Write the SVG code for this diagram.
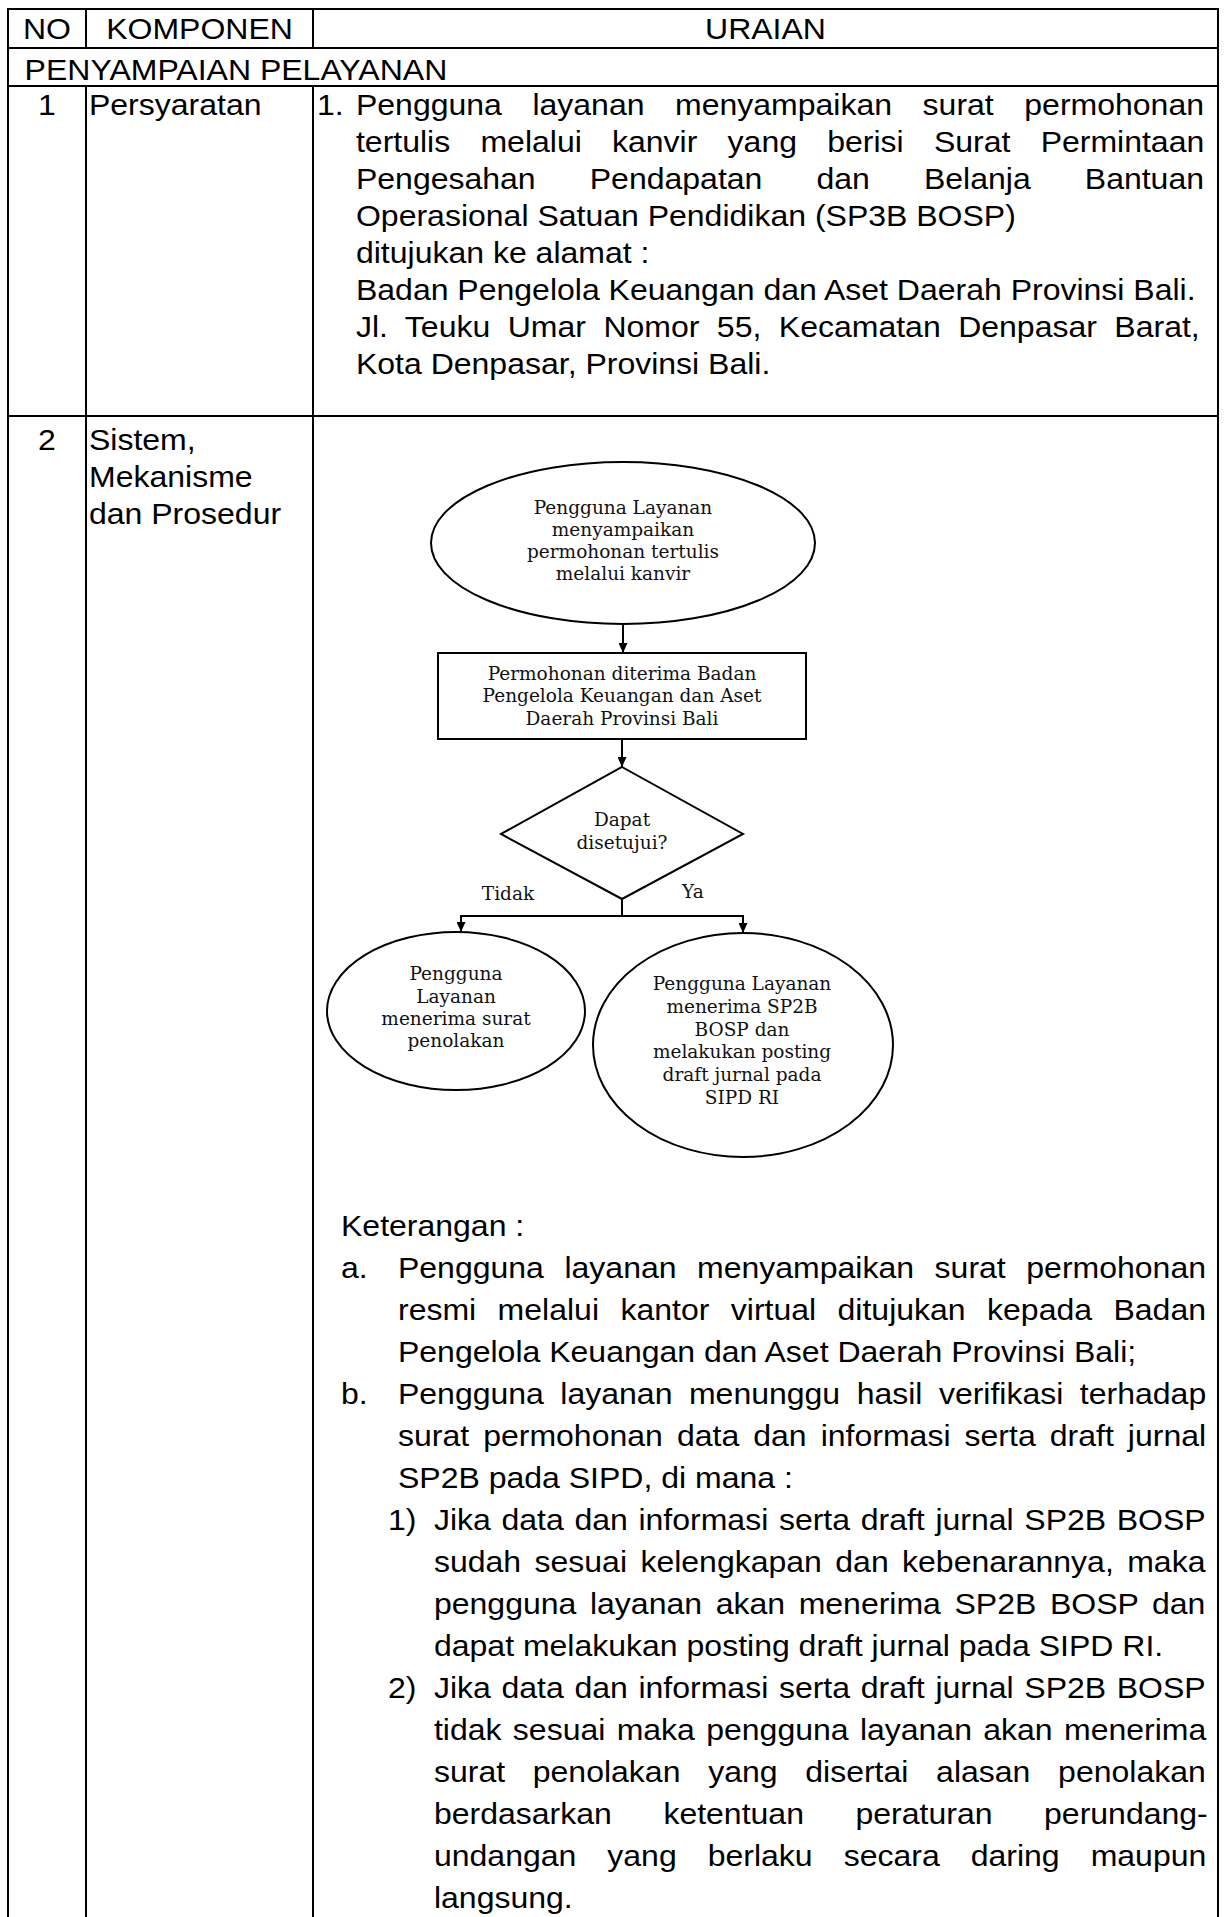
<svg xmlns="http://www.w3.org/2000/svg" width="1224" height="1917" viewBox="0 0 1224 1917">
  <style>
    .grid { stroke: #000; stroke-width: 2; fill: none; }
    .body { font-family: "Liberation Sans", Arial, sans-serif; font-size: 29.1px; fill: #000; }
    .mid { text-anchor: middle; }
    .shape { fill: #fff; stroke: #000; stroke-width: 2; }
    .fc { font-family: "DejaVu Serif", "Liberation Serif", serif; font-size: 18.5px; fill: #111; text-anchor: middle; }
    .edge { fill: none; stroke: #000; stroke-width: 2; }
  </style>
  <defs>
    <marker id="arrow" viewBox="0 0 10 9" refX="10" refY="4.5" markerWidth="10" markerHeight="9" markerUnits="userSpaceOnUse" orient="auto">
      <path d="M0,0 L10,4.5 L0,9 z" fill="#000"/>
    </marker>
  </defs>
  <rect width="1224" height="1917" fill="#fff"/>

  <!-- table rules -->
  <g id="table" class="grid">
    <path d="M8,9 H1218 M8,48 H1218 M8,86 H1218 M8,416 H1218"/>
    <path d="M8,8 V1917 M1218,8 V1917"/>
    <path d="M86,9 V48 M313,9 V48 M86,86 V1917 M313,86 V1917"/>
  </g>

  <!-- table text (Arial metrics, widened horizontally) -->
  <g id="table-text" class="body" transform="scale(1.1 1)">
    <text class="mid" x="42.7" y="39">NO</text>
    <text class="mid" x="181.4" y="39">KOMPONEN</text>
    <text class="mid" x="695.9" y="39">URAIAN</text>
    <text x="22.4" y="80">PENYAMPAIAN PELAYANAN</text>

    <text class="mid" x="42.7" y="115">1</text>
    <text x="80.9" y="115">Persyaratan</text>
    <text x="288.2" y="115">1.</text>
    <text x="323.6" y="115" style="word-spacing:19.7px">Pengguna layanan menyampaikan surat permohonan</text>
    <text x="323.6" y="152" style="word-spacing:19.4px">tertulis melalui kanvir yang berisi Surat Permintaan</text>
    <text x="323.6" y="189" style="word-spacing:41.1px">Pengesahan Pendapatan dan Belanja Bantuan</text>
    <text x="323.6" y="226">Operasional Satuan Pendidikan (SP3B BOSP)</text>
    <text x="323.6" y="263">ditujukan ke alamat :</text>
    <text x="323.6" y="300">Badan Pengelola Keuangan dan Aset Daerah Provinsi Bali.</text>
    <text x="323.6" y="337" style="word-spacing:7.8px">Jl. Teuku Umar Nomor 55, Kecamatan Denpasar Barat,</text>
    <text x="323.6" y="374">Kota Denpasar, Provinsi Bali.</text>

    <text class="mid" x="42.7" y="450">2</text>
    <text x="80.9" y="450">Sistem,</text>
    <text x="80.9" y="487">Mekanisme</text>
    <text x="80.9" y="524">dan Prosedur</text>

    <text x="310" y="1236">Keterangan :</text>
    <text x="310" y="1278">a.</text>
    <text x="361.8" y="1278" style="word-spacing:10.6px">Pengguna layanan menyampaikan surat permohonan</text>
    <text x="361.8" y="1320" style="word-spacing:11.4px">resmi melalui kantor virtual ditujukan kepada Badan</text>
    <text x="361.8" y="1362">Pengelola Keuangan dan Aset Daerah Provinsi Bali;</text>
    <text x="310" y="1404">b.</text>
    <text x="361.8" y="1404" style="word-spacing:6.9px">Pengguna layanan menunggu hasil verifikasi terhadap</text>
    <text x="361.8" y="1446" style="word-spacing:4.7px">surat permohonan data dan informasi serta draft jurnal</text>
    <text x="361.8" y="1488">SP2B pada SIPD, di mana :</text>

    <text x="352.7" y="1530">1)</text>
    <text x="394.5" y="1530" style="word-spacing:1.6px">Jika data dan informasi serta draft jurnal SP2B BOSP</text>
    <text x="394.5" y="1572" style="word-spacing:4.1px">sudah sesuai kelengkapan dan kebenarannya, maka</text>
    <text x="394.5" y="1614" style="word-spacing:4.3px">pengguna layanan akan menerima SP2B BOSP dan</text>
    <text x="394.5" y="1656">dapat melakukan posting draft jurnal pada SIPD RI.</text>

    <text x="352.7" y="1698">2)</text>
    <text x="394.5" y="1698" style="word-spacing:1.6px">Jika data dan informasi serta draft jurnal SP2B BOSP</text>
    <text x="394.5" y="1740" style="word-spacing:2.2px">tidak sesuai maka pengguna layanan akan menerima</text>
    <text x="394.5" y="1782" style="word-spacing:17.1px">surat penolakan yang disertai alasan penolakan</text>
    <text x="394.5" y="1824" style="word-spacing:38.8px">berdasarkan ketentuan peraturan perundang-</text>
    <text x="394.5" y="1866" style="word-spacing:20.1px">undangan yang berlaku secara daring maupun</text>
    <text x="394.5" y="1908">langsung.</text>
  </g>

  <!-- flowchart connectors -->
  <g id="connectors">
    <path class="edge" d="M623,624 V653" marker-end="url(#arrow)"/>
    <path class="edge" d="M622,739 V767" marker-end="url(#arrow)"/>
    <path class="edge" d="M622,899 V916 H461 V932" marker-end="url(#arrow)"/>
    <path class="edge" d="M622,916 H743 V933" marker-end="url(#arrow)"/>
    <text class="fc" x="508" y="900">Tidak</text>
    <text class="fc" x="693" y="898">Ya</text>
  </g>

  <g id="start">
    <ellipse class="shape" cx="623" cy="543" rx="192" ry="81"/>
    <text class="fc" x="623" y="514">Pengguna Layanan</text>
    <text class="fc" x="623" y="536">menyampaikan</text>
    <text class="fc" x="623" y="558">permohonan tertulis</text>
    <text class="fc" x="623" y="580">melalui kanvir</text>
  </g>

  <g id="received">
    <rect class="shape" x="438" y="653" width="368" height="86"/>
    <text class="fc" x="622" y="680">Permohonan diterima Badan</text>
    <text class="fc" x="622" y="702">Pengelola Keuangan dan Aset</text>
    <text class="fc" x="622" y="725">Daerah Provinsi Bali</text>
  </g>

  <g id="decision">
    <polygon class="shape" points="622,767 743,834 622,899 501,834"/>
    <text class="fc" x="622" y="826">Dapat</text>
    <text class="fc" x="622" y="849">disetujui?</text>
  </g>

  <g id="rejected">
    <ellipse class="shape" cx="456" cy="1011" rx="129" ry="79"/>
    <text class="fc" x="456" y="980">Pengguna</text>
    <text class="fc" x="456" y="1003">Layanan</text>
    <text class="fc" x="456" y="1025">menerima surat</text>
    <text class="fc" x="456" y="1047">penolakan</text>
  </g>

  <g id="approved">
    <ellipse class="shape" cx="743" cy="1045" rx="150" ry="112"/>
    <text class="fc" x="742" y="990">Pengguna Layanan</text>
    <text class="fc" x="742" y="1013">menerima SP2B</text>
    <text class="fc" x="742" y="1036">BOSP dan</text>
    <text class="fc" x="742" y="1058">melakukan posting</text>
    <text class="fc" x="742" y="1081">draft jurnal pada</text>
    <text class="fc" x="742" y="1104">SIPD RI</text>
  </g>
</svg>
